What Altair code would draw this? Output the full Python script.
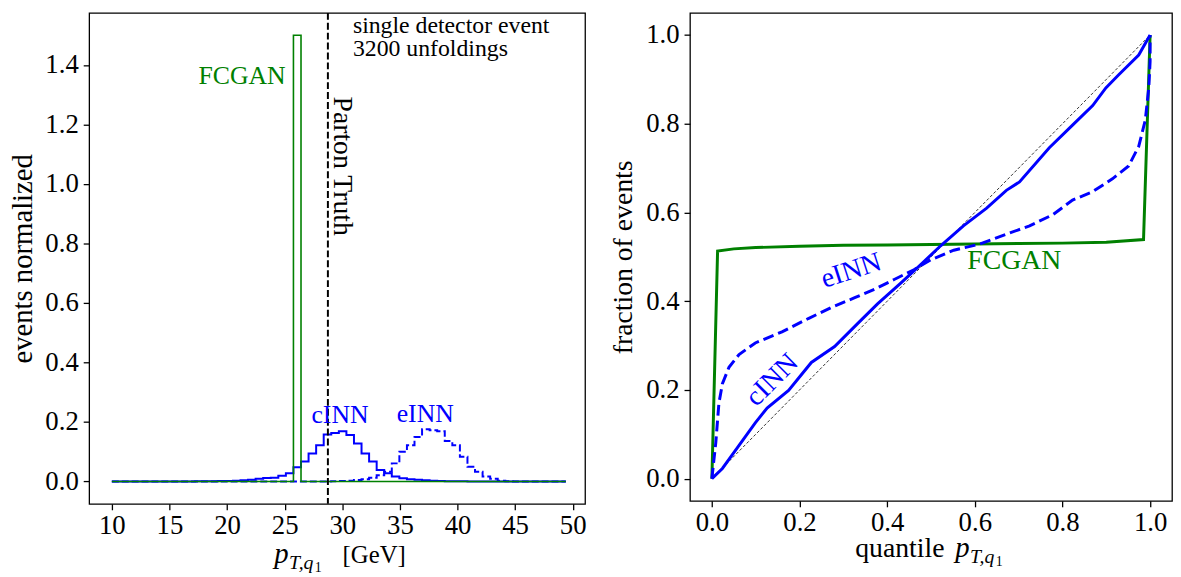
import altair as alt
import numpy as np
import pandas as pd

FONT = "Liberation Serif"
BLUE = "#0000ff"
GREEN = "#008000"

# ---------------- left panel: single-event histograms ----------------
hist_lo = 10.0
hist_hi = 49.4
n_bins = 60
cinn_hist = [0, 0, 0, 0, 0, 0, 0, 0, 0, 0,
             0, 0.001, 0.001, 0.001, 0.002, 0.002, 0.003, 0.004, 0.006, 0.009,
             0.012, 0.013, 0.019, 0.028, 0.048, 0.067, 0.094, 0.122, 0.158, 0.163,
             0.169, 0.156, 0.128, 0.094, 0.067, 0.039, 0.028, 0.017, 0.011, 0.008,
             0.006, 0.004, 0.003, 0.002, 0.001, 0.001, 0.001, 0, 0, 0,
             0, 0, 0, 0, 0, 0, 0, 0, 0, 0]
einn_hist = [0, 0, 0, 0, 0, 0, 0, 0, 0, 0,
             0, 0, 0, 0, 0, 0, 0, 0, 0, 0,
             0, 0, 0, 0, 0, 0, 0, 0, 0, 0.001,
             0.002, 0.003, 0.005, 0.008, 0.013, 0.021, 0.033, 0.061, 0.100, 0.122,
             0.150, 0.176, 0.172, 0.169, 0.136, 0.122, 0.083, 0.050, 0.033, 0.017,
             0.009, 0.003, 0.001, 0, 0, 0, 0, 0, 0, 0]
fcgan_hist = [0, 0, 0, 0, 0, 0, 0, 0, 0, 0,
              0, 0, 0, 0, 0, 0, 0, 0, 0, 0,
              0, 0, 0, 0, 1.5, 0, 0, 0, 0, 0,
              0, 0, 0, 0, 0, 0, 0, 0, 0, 0,
              0, 0, 0, 0, 0, 0, 0, 0, 0, 0,
              0, 0, 0, 0, 0, 0, 0, 0, 0, 0]
parton_truth = 28.75

left_x_ticks = [10, 15, 20, 25, 30, 35, 40, 45, 50]
left_y_ticks = [0.0, 0.2, 0.4, 0.6, 0.8, 1.0, 1.2, 1.4]

# annotation texts (data coordinates)
info_lines = ["single detector event", "3200 unfoldings"]
info_x = [30.92, 30.92]
info_y = [1.532, 1.452]
left_labels = ["FCGAN", "cINN", "eINN"]
left_label_x = [25.08, 29.80, 37.20]
left_label_y = [1.335, 0.198, 0.199]
left_label_color = [GREEN, BLUE, BLUE]
left_label_align = ["right", "center", "center"]
truth_label = "Parton Truth"
truth_label_x = 29.95
truth_label_y = 1.060

# ---------------- right panel: quantile curves ----------------
cinn_q_x = [0, 0.024, 0.062, 0.099, 0.126, 0.175, 0.227, 0.280, 0.333, 0.378, 0.431, 0.476,
            0.522, 0.574, 0.627, 0.672, 0.702, 0.770, 0.823, 0.869, 0.899, 0.929, 0.974, 1.0]
cinn_q_y = [0, 0.023, 0.075, 0.126, 0.159, 0.199, 0.262, 0.298, 0.350, 0.394, 0.441, 0.482,
            0.525, 0.570, 0.610, 0.650, 0.669, 0.746, 0.797, 0.841, 0.881, 0.911, 0.955, 1.0]
einn_q_x = [0, 0.009, 0.016, 0.024, 0.039, 0.062, 0.099, 0.160, 0.220, 0.273, 0.326, 0.371,
            0.416, 0.461, 0.499, 0.552, 0.612, 0.672, 0.725, 0.778, 0.823, 0.869, 0.914,
            0.951, 0.974, 0.989, 0.997, 1.0, 1.0]
einn_q_y = [0, 0.082, 0.170, 0.214, 0.251, 0.280, 0.306, 0.331, 0.361, 0.386, 0.408, 0.427,
            0.449, 0.471, 0.493, 0.515, 0.529, 0.551, 0.570, 0.595, 0.628, 0.647, 0.676,
            0.705, 0.749, 0.808, 0.881, 0.940, 1.0]
fcgan_q_x = [0, 0.013, 0.05, 0.1, 0.2, 0.3, 0.4, 0.5, 0.6, 0.7, 0.8, 0.9, 0.985, 1.0]
fcgan_q_y = [0, 0.513, 0.518, 0.521, 0.524, 0.526, 0.527, 0.528, 0.529, 0.530, 0.531,
             0.533, 0.539, 1.0]
diag_x = [0.0, 1.0]
diag_y = [0.0, 1.0]

right_ticks = [0.0, 0.2, 0.4, 0.6, 0.8, 1.0]
right_labels = ["eINN", "cINN", "FCGAN"]
right_label_x = [0.318, 0.138, 0.690]
right_label_y = [0.468, 0.222, 0.490]
right_label_angle = [342, 315, 0]
right_label_color = [BLUE, BLUE, GREEN]

# ---------------- build tables ----------------
edges = np.linspace(hist_lo, hist_hi, n_bins + 1)


def step_table(name, vals):
    xs = [edges[0]] + list(edges[:-1]) + [edges[-1], edges[-1]]
    ys = [0.0] + list(vals) + [vals[-1], 0.0]
    return pd.DataFrame({"x": xs, "y": ys, "i": range(len(xs)), "s": name})


def curve_table(name, xs, ys):
    return pd.DataFrame({"x": xs, "y": ys, "i": range(len(xs)), "s": name})


LW, LH = 501, 496
RW, RH = 487, 493

xL = alt.X("x:Q", scale=alt.Scale(domain=[8.03, 51.07], nice=False, zero=False),
           axis=alt.Axis(values=left_x_ticks, title=None, labelPadding=3))
yL = alt.Y("y:Q", scale=alt.Scale(domain=[-0.075, 1.575], nice=False, zero=False),
           axis=alt.Axis(values=left_y_ticks, format=".1f", title="events normalized",
                         titlePadding=7, labelPadding=5, titleFontSize=29))
order = alt.Order("i:Q")

cinn_l = alt.Chart(step_table("cINN", cinn_hist)).mark_line(
    interpolate="step-after", color=BLUE, strokeWidth=2).encode(x=xL, y=yL, order=order)
einn_l = alt.Chart(step_table("eINN", einn_hist)).mark_line(
    interpolate="step-after", color=BLUE, strokeWidth=2, strokeDash=[7, 3]).encode(x=xL, y=yL, order=order)
fcgan_l = alt.Chart(step_table("FCGAN", fcgan_hist)).mark_line(
    interpolate="step-after", color=GREEN, strokeWidth=1.6).encode(x=xL, y=yL, order=order)
truth_l = alt.Chart(pd.DataFrame({"x": [parton_truth]})).mark_rule(
    color="black", strokeWidth=2, strokeDash=[7, 3]).encode(x=xL)
truth_t = alt.Chart(pd.DataFrame({"x": [truth_label_x], "y": [truth_label_y], "t": [truth_label]})).mark_text(
    font=FONT, fontSize=28, angle=90, align="center", baseline="middle", color="black"
).encode(x=xL, y=yL, text="t:N")

info_t = alt.Chart(pd.DataFrame({"x": info_x, "y": info_y, "t": info_lines})).mark_text(
    font=FONT, fontSize=24, align="left", baseline="middle", color="black"
).encode(x=xL, y=yL, text="t:N")

left_text_df = pd.DataFrame({"x": left_label_x, "y": left_label_y, "t": left_labels,
                             "c": left_label_color, "a": left_label_align})
left_texts = []
for al in ["right", "center"]:
    sub = left_text_df[left_text_df["a"] == al]
    left_texts.append(alt.Chart(sub).mark_text(font=FONT, fontSize=26, align=al,
                                               baseline="alphabetic").encode(
        x=xL, y=yL, text="t:N", color=alt.Color("c:N", scale=None)))


def title_piece(txt, px, py, size, italic=False):
    return alt.Chart(pd.DataFrame({"t": [txt]})).mark_text(
        font=FONT, fontSize=size, fontStyle="italic" if italic else "normal",
        align="left", baseline="alphabetic", color="black"
    ).encode(x=alt.value(px), y=alt.value(py), text="t:N")


# axis titles built from pieces
left_title = [
    title_piece("p", 187, 556, 29, True),
    title_piece("T,q", 202, 562, 20, True),
    title_piece("1", 228, 565, 14),
    title_piece("[GeV]", 256, 556, 25),
]

left = alt.layer(cinn_l, einn_l, fcgan_l, truth_l, truth_t, info_t, *left_texts,
                 *left_title).properties(width=LW, height=LH)

# ---------------- right panel ----------------
xR = alt.X("x:Q", scale=alt.Scale(domain=[-0.05, 1.05], nice=False, zero=False),
           axis=alt.Axis(values=right_ticks, format=".1f", title=None, labelPadding=3))
yR = alt.Y("y:Q", scale=alt.Scale(domain=[-0.05, 1.05], nice=False, zero=False),
           axis=alt.Axis(values=right_ticks, format=".1f", title="fraction of events",
                         titlePadding=8, labelPadding=5, titleFontSize=28))

diag_r = alt.Chart(curve_table("diag", diag_x, diag_y)).mark_line(
    color="black", strokeWidth=0.8, strokeDash=[3, 2]).encode(x=xR, y=yR, order=order)
fcgan_r = alt.Chart(curve_table("FCGAN", fcgan_q_x, fcgan_q_y)).mark_line(
    color=GREEN, strokeWidth=3).encode(x=xR, y=yR, order=order)
einn_r = alt.Chart(curve_table("eINN", einn_q_x, einn_q_y)).mark_line(
    color=BLUE, strokeWidth=3, strokeDash=[11, 5]).encode(x=xR, y=yR, order=order)
cinn_r = alt.Chart(curve_table("cINN", cinn_q_x, cinn_q_y)).mark_line(
    color=BLUE, strokeWidth=3).encode(x=xR, y=yR, order=order)

right_texts = []
for t, x, y, a, c in zip(right_labels, right_label_x, right_label_y, right_label_angle,
                         right_label_color):
    right_texts.append(alt.Chart(pd.DataFrame({"x": [x], "y": [y], "t": [t]})).mark_text(
        font=FONT, fontSize=28, angle=a, align="center", baseline="middle", color=c
    ).encode(x=xR, y=yR, text="t:N"))

right_title = [
    title_piece("quantile", 167, 550, 28),
    title_piece("p", 268, 550, 29, True),
    title_piece("T,q", 283, 556, 20, True),
    title_piece("1", 309, 559, 14),
]

right = alt.layer(diag_r, fcgan_r, einn_r, cinn_r, *right_texts, *right_title).properties(
    width=RW, height=RH)

chart = alt.hconcat(left, right, spacing=22).properties(
    padding={"left": 0, "top": 0, "right": 0, "bottom": 0}
).configure_axis(
    labelFont=FONT, titleFont=FONT, labelFontSize=27, titleFontSize=27,
    titleFontWeight="normal", labelColor="black", titleColor="black",
    tickColor="black", tickSize=6, tickWidth=1.3, domain=False, grid=False
).configure_view(stroke="black", strokeWidth=1.3)

chart.save("out.html", embed_options={"renderer": "svg", "actions": False})
